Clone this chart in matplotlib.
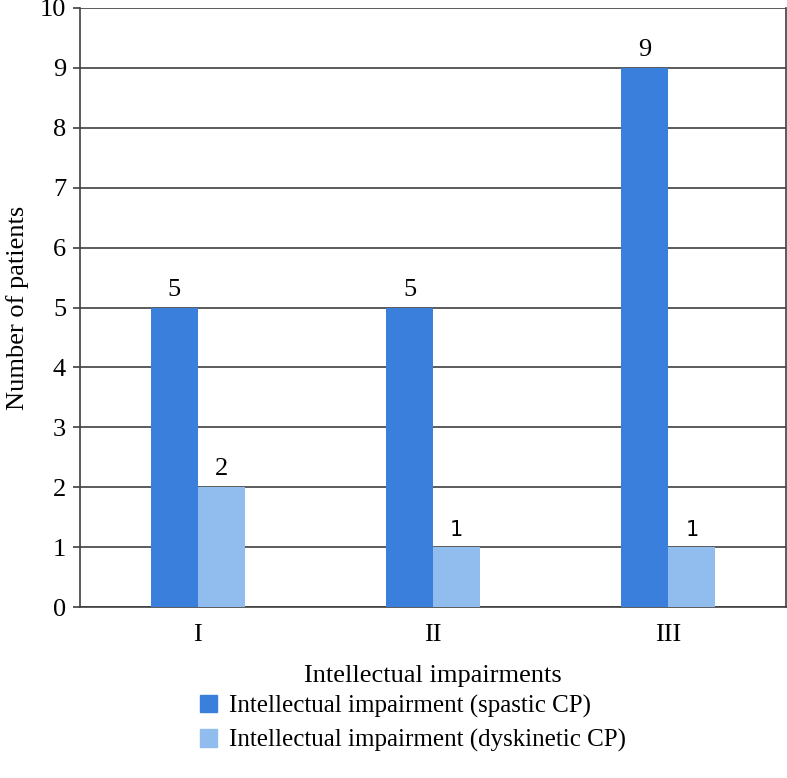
import matplotlib
matplotlib.use("Agg")
import matplotlib.pyplot as plt
import numpy as np
from matplotlib.patches import Patch

categories = ["I", "II", "III"]
spastic = [5, 5, 9]
dyskinetic = [2, 1, 1]
series_names = ["Intellectual impairment (spastic CP)", "Intellectual impairment (dyskinetic CP)"]
colors = ["#3A7FDC", "#90BDEE"]

plt.rcParams['font.family'] = ['Liberation Serif', 'DejaVu Serif']
FS = 19

fig = plt.figure(figsize=(7.87, 7.78), dpi=100)
ax = fig.add_axes([80/787, 1-607/778, 706/787, 599/778])

x = np.arange(len(categories))
w = 0.2
b1 = ax.bar(x - w/2, spastic, w, color=colors[0], zorder=3)
b2 = ax.bar(x + w/2, dyskinetic, w, color=colors[1], zorder=3)

ax.bar_label(b1, labels=[str(v) for v in spastic], padding=5, fontsize=FS)
lbl2 = ax.bar_label(b2, labels=[str(v) for v in dyskinetic], padding=5, fontsize=FS)
for t, v in zip(lbl2, dyskinetic):
    if v == 1:
        t.set_fontfamily('DejaVu Sans')
        t.set_fontsize(FS - 4)

ax.set_xlim(-0.5, 2.5)
ax.set_ylim(0, 10)
ax.set_yticks(range(0, 11))
ax.set_xticks(x)
ax.set_xticklabels(categories, fontsize=FS)
ax.tick_params(axis='y', labelsize=FS, length=5, color='#404040', width=1.2, pad=5)
ax.tick_params(axis='x', length=0, pad=12)
ax.yaxis.grid(True, color='#404040', linewidth=1.2, zorder=0)
ax.set_axisbelow(True)
for s in ['left', 'right', 'bottom']:
    ax.spines[s].set_color('#404040')
    ax.spines[s].set_linewidth(1.2)
ax.spines['top'].set_visible(False)

ax.set_xlabel("Intellectual impairments", fontsize=FS, labelpad=14)
ax.set_ylabel("Number of patients", fontsize=FS, labelpad=8)

handles = [Patch(color=colors[0]), Patch(color=colors[1])]
fig.legend(handles, series_names, loc='upper left', bbox_to_anchor=(200/787, 1-695/778),
           frameon=False, fontsize=18, handlelength=0.68, handleheight=0.68,
           handletextpad=0.48, labelspacing=0.44, borderaxespad=0, borderpad=0)

fig.savefig("out.png", dpi=100)
